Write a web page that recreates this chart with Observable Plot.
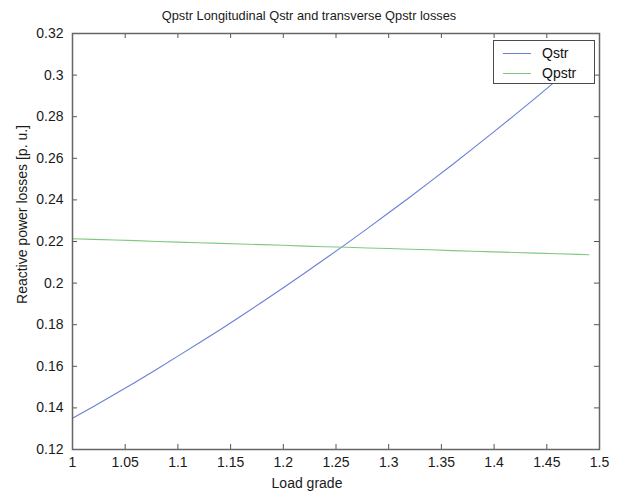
<!DOCTYPE html>
<html>
<head>
<meta charset="utf-8">
<script src="https://cdn.jsdelivr.net/npm/d3@7"></script>
<script src="https://cdn.jsdelivr.net/npm/@observablehq/plot@0.6"></script>
<style>
  html, body { margin: 0; padding: 0; background: #fff; }
  #wrap { position: relative; width: 618px; height: 495px; font-family: "Liberation Sans", Arial, sans-serif; }
  #legend { position: absolute; left: 493px; top: 40px; width: 100px; height: 42px; background: #fff;
            border: 1.5px solid #4a4a4a; font-size: 14px; color: #111; }
  .row { position: absolute; left: 0; height: 20px; line-height: 20px; }
  .sw { position: absolute; left: 9px; width: 28px; height: 0; }
  .lab { position: absolute; left: 48px; white-space: nowrap; }
</style>
</head>
<body>
<div id="wrap"></div>
<script>
// Load grade
const loadGrade = [1.00, 1.02, 1.04, 1.06, 1.08, 1.10, 1.12, 1.14, 1.16, 1.18, 1.20, 1.22, 1.24,
                   1.26, 1.28, 1.30, 1.32, 1.34, 1.36, 1.38, 1.40, 1.42, 1.44, 1.46, 1.48, 1.49];
// Longitudinal losses Qstr
const qstr = [0.1350, 0.1407, 0.1466, 0.1525, 0.1586, 0.1649, 0.1712, 0.1776, 0.1842, 0.1909, 0.1978,
              0.2047, 0.2118, 0.2190, 0.2263, 0.2338, 0.2413, 0.2490, 0.2568, 0.2648, 0.2728, 0.2810,
              0.2893, 0.2978, 0.3063, 0.3107];
// Transverse losses Qpstr
const qpstr = [0.2213, 0.2210, 0.2207, 0.2204, 0.2200, 0.2197, 0.2194, 0.2191, 0.2188, 0.2185, 0.2182,
               0.2178, 0.2175, 0.2172, 0.2169, 0.2166, 0.2163, 0.2160, 0.2156, 0.2153, 0.2150, 0.2147,
               0.2144, 0.2141, 0.2138, 0.2136];
const xTicks = [1, 1.05, 1.1, 1.15, 1.2, 1.25, 1.3, 1.35, 1.4, 1.45, 1.5];
const yTicks = [0.12, 0.14, 0.16, 0.18, 0.2, 0.22, 0.24, 0.26, 0.28, 0.3, 0.32];
const seriesNames = ["Qstr", "Qpstr"];
const seriesColors = ["#6b7fd4", "#80c880"];
const titleText = "Qpstr Longitudinal Qstr and transverse Qpstr losses";
const xLabel = "Load grade";
const yLabel = "Reactive power losses [p. u.]";

const rows = [];
loadGrade.forEach((x, i) => {
  rows.push({x, y: qstr[i], s: seriesNames[0]});
  rows.push({x, y: qpstr[i], s: seriesNames[1]});
});

const W = 618, H = 495;
const mL = 72, mR = 19, mT = 33, mB = 46;
const fw = W - mL - mR, fh = H - mT - mB;
const fmt = d => String(+d.toFixed(2));
const tickColor = "#555";

const chart = Plot.plot({
  width: W, height: H,
  marginLeft: mL, marginRight: mR, marginTop: mT, marginBottom: mB,
  style: {fontFamily: '"Liberation Sans", Arial, sans-serif', fontSize: "14px", color: "#1a1a1a", background: "#fff"},
  x: {domain: [1, 1.5]},
  y: {domain: [0.12, 0.32]},
  color: {domain: seriesNames, range: seriesColors},
  marks: [
    Plot.line(rows, {x: "x", y: "y", z: "s", stroke: "s", strokeWidth: 1.1}),
    Plot.tickX(xTicks, {x: d => d, insetTop: fh - 5, stroke: tickColor}),
    Plot.tickX(xTicks, {x: d => d, insetBottom: fh - 5, stroke: tickColor}),
    Plot.tickY(yTicks, {y: d => d, insetRight: fw - 5, stroke: tickColor}),
    Plot.tickY(yTicks, {y: d => d, insetLeft: fw - 5, stroke: tickColor}),
    Plot.frame({stroke: "#666", strokeWidth: 1.5}),
    Plot.axisX(xTicks, {tickSize: 0, tickPadding: 8, tickFormat: fmt, label: null}),
    Plot.axisY(yTicks, {tickSize: 0, tickPadding: 9, tickFormat: fmt, label: null}),
    Plot.text([xLabel], {frameAnchor: "bottom", textAnchor: "middle", lineAnchor: "middle", dy: 34, dx: -29, fontSize: 14}),
    Plot.text([yLabel], {frameAnchor: "left", textAnchor: "middle", lineAnchor: "middle", rotate: -90, dx: -50, dy: -27, fontSize: 14}),
    Plot.text([titleText], {frameAnchor: "top", textAnchor: "middle", lineAnchor: "middle", dy: -17.5, dx: -27, fontSize: 12.8})
  ]
});

const wrap = document.getElementById("wrap");
wrap.appendChild(chart);

const legend = document.createElement("div");
legend.id = "legend";
seriesNames.forEach((name, i) => {
  const row = document.createElement("div");
  row.className = "row";
  row.style.top = (2 + i * 20) + "px";
  row.style.width = "100%";
  const sw = document.createElement("div");
  sw.className = "sw";
  sw.style.top = "10px";
  sw.style.borderTop = "1px solid " + seriesColors[i];
  const lab = document.createElement("div");
  lab.className = "lab";
  lab.textContent = name;
  row.appendChild(sw);
  row.appendChild(lab);
  legend.appendChild(row);
});
wrap.appendChild(legend);
</script>
</body>
</html>
